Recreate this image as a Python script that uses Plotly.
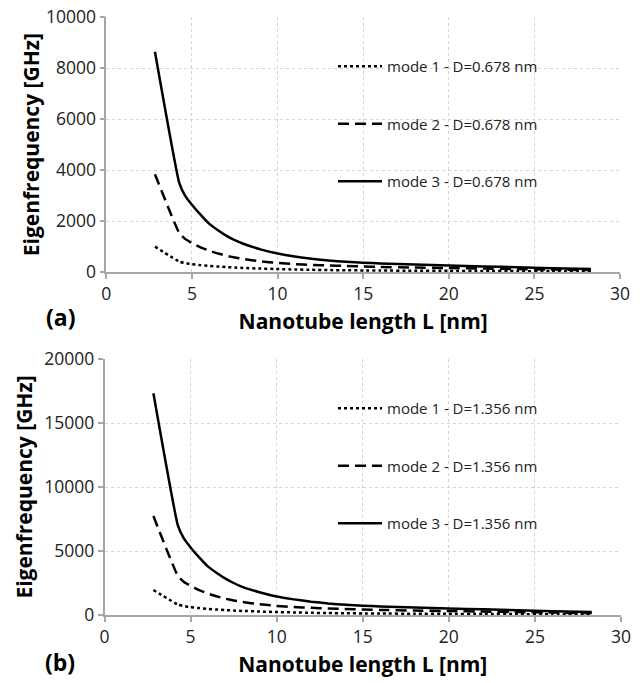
import plotly.graph_objects as go

# Nanotube length L [nm]
L = [2.84, 4.26, 4.6, 5.0, 5.5, 6.0, 6.5, 7.0, 7.5, 8.0, 9.0, 10.0, 11.0, 12.0, 13.0, 14.0,
     15.0, 16.0, 18.0, 20.0, 22.0, 24.0, 26.0, 28.3]

# (a) D = 0.678 nm, eigenfrequency [GHz]
a_mode1 = [995, 410, 350, 305, 270, 240, 215, 195, 175, 160, 135, 115, 100, 85, 75, 68,
           62, 57, 50, 44, 39, 34, 30, 26]
a_mode2 = [3840, 1530, 1300, 1140, 970, 840, 730, 640, 570, 510, 420, 355, 310, 280, 255, 235,
           215, 200, 175, 155, 135, 115, 95, 75]
a_mode3 = [8650, 3500, 3000, 2640, 2250, 1900, 1650, 1430, 1250, 1110, 890, 730, 610, 520, 450, 400,
           365, 335, 290, 255, 220, 185, 150, 115]

# (b) D = 1.356 nm, eigenfrequency [GHz]
b_mode1 = [1950, 820, 700, 610, 540, 480, 430, 390, 350, 320, 270, 230, 200, 170, 150, 136,
           124, 114, 100, 88, 78, 68, 60, 52]
b_mode2 = [7730, 3060, 2600, 2280, 1940, 1680, 1460, 1280, 1140, 1020, 840, 710, 620, 560, 510, 470,
           430, 400, 350, 310, 270, 230, 190, 150]
b_mode3 = [17320, 7000, 6000, 5280, 4500, 3800, 3300, 2860, 2500, 2200, 1780, 1440, 1220, 1040, 900, 800,
           730, 670, 580, 510, 440, 370, 300, 230]

names_a = ["mode 1 - D=0.678 nm", "mode 2 - D=0.678 nm", "mode 3 - D=0.678 nm"]
names_b = ["mode 1 - D=1.356 nm", "mode 2 - D=1.356 nm", "mode 3 - D=1.356 nm"]
x_ticks = [0, 5, 10, 15, 20, 25, 30]
ya_ticks = [0, 2000, 4000, 6000, 8000, 10000]
yb_ticks = [0, 5000, 10000, 15000, 20000]

FONT = "Open Sans"
dashes = ["3px,3px", "11px,6px", "solid"]

fig = go.Figure()
for i, (ys, nm) in enumerate(zip([a_mode1, a_mode2, a_mode3], names_a)):
    fig.add_trace(go.Scatter(x=L, y=ys, mode="lines", name=nm,
                             line=dict(color="black", width=2.5, dash=dashes[i],
                                       shape="spline", smoothing=0.4),
                             xaxis="x", yaxis="y", legend="legend",
                             legendgroup="a%d" % i))
for i, (ys, nm) in enumerate(zip([b_mode1, b_mode2, b_mode3], names_b)):
    fig.add_trace(go.Scatter(x=L, y=ys, mode="lines", name=nm,
                             line=dict(color="black", width=2.5, dash=dashes[i],
                                       shape="spline", smoothing=0.4),
                             xaxis="x2", yaxis="y2", legend="legend2",
                             legendgroup="b%d" % i))

# the page body margin is removed (post_script below), so the figure fills the window
W, H = 644, 683
def px_x(p):
    return p / W
def px_y(p):
    return 1 - p / H

axis_common = dict(showline=True, linecolor="#a6a6a6", linewidth=1.5,
                   ticks="outside", ticklen=5, tickcolor="#a6a6a6", tickwidth=1.5,
                   showgrid=True, gridcolor="#d4d4d4", gridwidth=1, griddash="dot",
                   zeroline=False, automargin=False, tickformat="d",
                   ticklabeloverflow="allow",
                   tickfont=dict(family=FONT, size=17.5, color="#222"))
title_font = dict(family=FONT, size=21, color="black", weight="bold")

fig.update_layout(
    width=W, height=H,
    margin=dict(l=0, r=0, t=0, b=0),
    paper_bgcolor="white", plot_bgcolor="white",
    xaxis=dict(domain=[px_x(106.3), px_x(620)], range=[0, 30], tickvals=x_ticks,
               anchor="y", title=dict(text="Nanotube length L [nm]", font=title_font, standoff=11),
               **axis_common),
    yaxis=dict(domain=[px_y(272), px_y(17.3)], range=[0, 10000], tickvals=ya_ticks,
               anchor="x", title=dict(text="Eigenfrequency [GHz]", font=title_font, standoff=1),
               **axis_common),
    xaxis2=dict(domain=[px_x(104.5), px_x(621)], range=[0, 30], tickvals=x_ticks,
                anchor="y2", title=dict(text="Nanotube length L [nm]", font=title_font, standoff=11),
                **axis_common),
    yaxis2=dict(domain=[px_y(615), px_y(359)], range=[0, 20000], tickvals=yb_ticks,
                anchor="x2", title=dict(text="Eigenfrequency [GHz]", font=title_font, standoff=6),
                **axis_common),
    legend=dict(x=px_x(333), y=px_y(50), xanchor="left", yanchor="top",
                bgcolor="rgba(0,0,0,0)", traceorder="grouped", tracegroupgap=35,
                itemwidth=44,
                font=dict(family=FONT, size=15, color="#222")),
    legend2=dict(x=px_x(333), y=px_y(392), xanchor="left", yanchor="top",
                 bgcolor="rgba(0,0,0,0)", traceorder="grouped", tracegroupgap=35,
                 itemwidth=44,
                 font=dict(family=FONT, size=15, color="#222")),
    shapes=[
        dict(type="rect", xref="paper", yref="paper", layer="between",
             x0=px_x(302), x1=px_x(572), y0=px_y(210), y1=px_y(40),
             fillcolor="white", line=dict(width=0)),
        dict(type="rect", xref="paper", yref="paper", layer="between",
             x0=px_x(302), x1=px_x(573), y0=px_y(553), y1=px_y(373),
             fillcolor="white", line=dict(width=0)),
    ],
    annotations=[
        dict(text="(a)", x=px_x(60), y=px_y(317), xref="paper", yref="paper",
             xanchor="center", yanchor="middle",
             showarrow=False, font=dict(family=FONT, size=23, color="black", weight="bold")),
        dict(text="(b)", x=px_x(60), y=px_y(662), xref="paper", yref="paper",
             xanchor="center", yanchor="middle",
             showarrow=False, font=dict(family=FONT, size=23, color="black", weight="bold")),
    ],
)

fig.write_html("out.html", config={"displayModeBar": False},
               post_script="document.body.style.margin='0';document.body.style.overflow='hidden';")
